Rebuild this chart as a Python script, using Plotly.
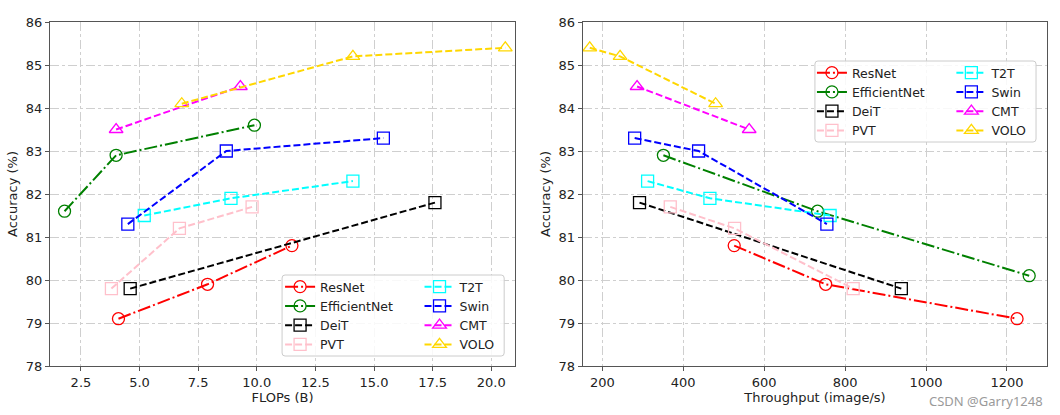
import plotly.graph_objects as go

# ---------------- data ----------------
models = ["ResNet", "EfficientNet", "DeiT", "PVT", "T2T", "Swin", "CMT", "VOLO"]

flops = {
    "ResNet": [4.1, 7.9, 11.5],
    "EfficientNet": [1.8, 4.0, 9.9],
    "DeiT": [4.6, 17.6],
    "PVT": [3.8, 6.7, 9.8],
    "T2T": [5.2, 8.9, 14.1],
    "Swin": [4.5, 8.7, 15.4],
    "CMT": [4.0, 9.3],
    "VOLO": [6.8, 14.1, 20.6],
}
acc_flops = {
    "ResNet": [79.1, 79.9, 80.8],
    "EfficientNet": [81.6, 82.9, 83.6],
    "DeiT": [79.8, 81.8],
    "PVT": [79.8, 81.2, 81.7],
    "T2T": [81.5, 81.9, 82.3],
    "Swin": [81.3, 83.0, 83.3],
    "CMT": [83.5, 84.5],
    "VOLO": [84.1, 85.2, 85.4],
}
throughput = {
    "ResNet": [526, 752, 1225],
    "EfficientNet": [351, 732, 1255],
    "DeiT": [292, 939],
    "PVT": [368, 527, 820],
    "T2T": [312, 466, 763],
    "Swin": [280, 438, 755],
    "CMT": [286, 563],
    "VOLO": [169, 244, 480],
}
acc_tp = {
    "ResNet": [80.8, 79.9, 79.1],
    "EfficientNet": [82.9, 81.6, 80.1],
    "DeiT": [81.8, 79.8],
    "PVT": [81.7, 81.2, 79.8],
    "T2T": [82.3, 81.9, 81.5],
    "Swin": [83.3, 83.0, 81.3],
    "CMT": [84.5, 83.5],
    "VOLO": [85.4, 85.2, 84.1],
}

y_ticks = [78, 79, 80, 81, 82, 83, 84, 85, 86]
flops_ticks = [2.5, 5.0, 7.5, 10.0, 12.5, 15.0, 17.5, 20.0]
tp_ticks = [200, 400, 600, 800, 1000, 1200]

# ---------------- styles ----------------
colors = {"ResNet": "red", "EfficientNet": "green", "DeiT": "black", "PVT": "pink",
          "T2T": "cyan", "Swin": "blue", "CMT": "magenta", "VOLO": "gold"}
symbols = {"ResNet": "circle-open", "EfficientNet": "circle-open", "DeiT": "square-open",
           "PVT": "square-open", "T2T": "square-open", "Swin": "square-open",
           "CMT": "triangle-up-open", "VOLO": "triangle-up-open"}
DASH = "7px,3px"
DASHDOT = "13px,3px,2px,3px"
dashes = {"ResNet": DASHDOT, "EfficientNet": DASHDOT, "DeiT": DASH, "PVT": DASH,
          "T2T": DASH, "Swin": DASH, "CMT": DASH, "VOLO": DASH}

W, H = 1060, 415
ML, MR, MT, MB = 46, 13, 22, 49
PW = W - ML - MR
PH = H - MT - MB


def px2x(px):
    return (px - ML) / PW


def px2y(py):
    return (H - MB - py) / PH


fig = go.Figure()

col1 = models[:4]
for i, m in enumerate(models):
    leg_l = "legend" if m in col1 else "legend2"
    leg_r = "legend3" if m in col1 else "legend4"
    common = dict(mode="lines+markers", name=m,
                  line=dict(color=colors[m], width=2, dash=dashes[m]),
                  marker=dict(symbol=symbols[m], size=12, color=colors[m],
                              line=dict(width=1.3, color=colors[m])))
    fig.add_trace(go.Scatter(x=flops[m], y=acc_flops[m], xaxis="x", yaxis="y",
                             legend=leg_l, **common))
    fig.add_trace(go.Scatter(x=throughput[m], y=acc_tp[m], xaxis="x2", yaxis="y2",
                             legend=leg_r, **common))

axis_common = dict(showline=True, linecolor="#555", linewidth=1.3, mirror=True,
                   ticks="outside", ticklen=4, tickcolor="#555", tickwidth=1,
                   showgrid=True, gridcolor="#cfcfcf", griddash="dashdot", gridwidth=1,
                   zeroline=False, tickfont=dict(size=13, color="#222"),
                   title_font=dict(size=13, color="#222"))

x1_dom = [0, px2x(513)]
x2_dom = [px2x(581), 1]

fig.update_layout(
    width=W, height=H,
    margin=dict(l=ML, r=MR, t=MT, b=MB),
    paper_bgcolor="white", plot_bgcolor="white",
    font=dict(family="DejaVu Sans", size=13, color="#222"),
    showlegend=True,
    xaxis=dict(domain=x1_dom, range=[1.18, 21.02], tickvals=flops_ticks,
               tickformat=".1f", title=dict(text="FLOPs (B)", standoff=3),
               anchor="y", **axis_common),
    yaxis=dict(domain=[0, 1], range=[78, 86], tickvals=y_ticks,
               title=dict(text="Accuracy (%)", standoff=5), anchor="x", **axis_common),
    xaxis2=dict(domain=x2_dom, range=[152, 1299], tickvals=tp_ticks,
                title=dict(text="Throughput (image/s)", standoff=3),
                anchor="y2", **axis_common),
    yaxis2=dict(domain=[0, 1], range=[78, 86], tickvals=y_ticks,
                title=dict(text="Accuracy (%)", standoff=5), anchor="x2", **axis_common),
)

leg_common = dict(bgcolor="rgba(0,0,0,0)", borderwidth=0, font=dict(size=12.5, color="#222"),
                  xanchor="left", yanchor="top", tracegroupgap=0, itemwidth=30)
fig.update_layout(
    legend=dict(x=px2x(277), y=px2y(272), **leg_common),
    legend2=dict(x=px2x(417), y=px2y(272), **leg_common),
    legend3=dict(x=px2x(811), y=px2y(58), **leg_common),
    legend4=dict(x=px2x(951), y=px2y(58), **leg_common),
)


def rounded_box(x0p, y0p, x1p, y1p, r=3):
    x0, x1 = px2x(x0p), px2x(x1p)
    y0, y1 = px2y(y1p), px2y(y0p)
    rx, ry = r / PW, r / PH
    return (f"M{x0+rx},{y0} L{x1-rx},{y0} Q{x1},{y0} {x1},{y0+ry} "
            f"L{x1},{y1-ry} Q{x1},{y1} {x1-rx},{y1} L{x0+rx},{y1} Q{x0},{y1} {x0},{y1-ry} "
            f"L{x0},{y0+ry} Q{x0},{y0} {x0+rx},{y0} Z")


for box in [(279, 275, 502, 356), (814, 61, 1036, 142)]:
    fig.add_shape(type="path", path=rounded_box(*box), xref="paper", yref="paper",
                  fillcolor="rgba(255,255,255,0.85)", line=dict(color="#cccccc", width=1),
                  layer="above")

fig.add_annotation(text="CSDN @Garry1248", x=px2x(1045), y=px2y(401), xref="paper",
                   yref="paper", xanchor="right", yanchor="middle", showarrow=False,
                   font=dict(family="Noto Sans", size=13, color="#9a9a9a"))

fig.write_html("out.html")
